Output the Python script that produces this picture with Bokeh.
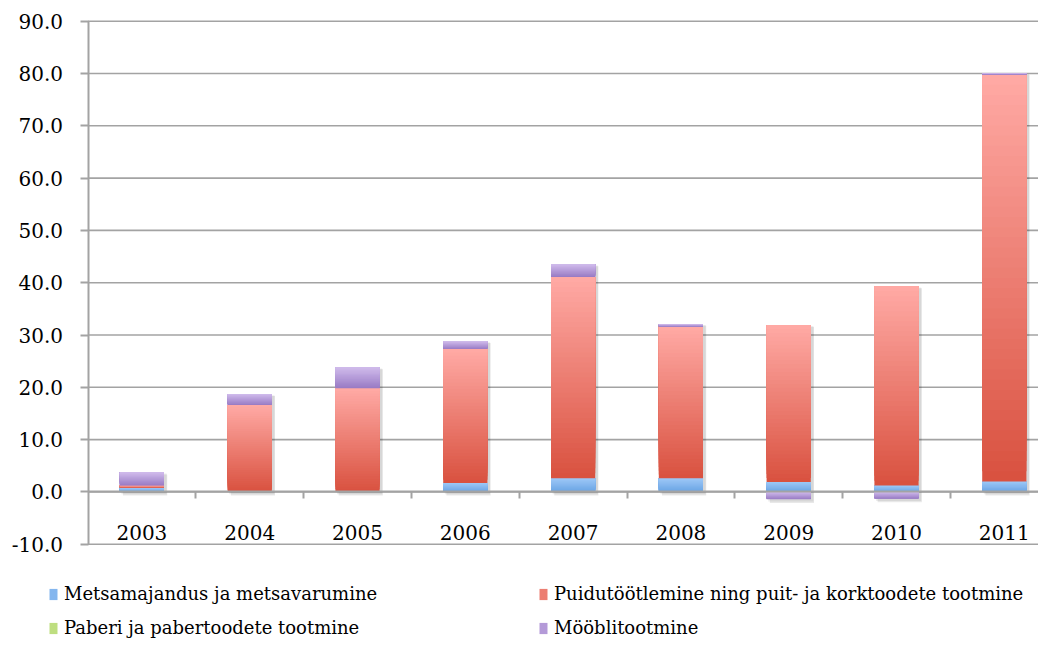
import numpy as np
from bokeh.plotting import figure
from bokeh.models import (ColumnDataSource, Range1d, FixedTicker, NumeralTickFormatter,
                          Legend, LegendItem)
from bokeh.embed import file_html
from bokeh.resources import INLINE

# ---------------- data ----------------
years = ["2003", "2004", "2005", "2006", "2007", "2008", "2009", "2010", "2011"]
series_names = ["Metsamajandus ja metsavarumine",
                "Puidutöötlemine ning puit- ja korktoodete tootmine",
                "Paberi ja pabertoodete tootmine",
                "Mööblitootmine"]
metsamajandus = [0.8, 0.0, 0.0, 1.7, 2.6, 2.6, 1.9, 1.2, 2.0]
puidutootlemine = [0.4, 16.6, 19.8, 25.6, 38.5, 29.0, 30.0, 38.1, 77.8]
paberi = [0.0, 0.0, 0.0, 0.0, 0.0, 0.0, 0.0, 0.0, 0.0]
mooblitootmine = [2.5, 2.1, 4.0, 1.5, 2.4, 0.5, -1.4, -1.3, 0.3]
y_ticks = [-10, 0, 10, 20, 30, 40, 50, 60, 70, 80, 90]

# gradient colours per series (bottom colour, top colour)
grad = [("#6aa4e4", "#9dc8f7"),
        ("#d9513f", "#ffaaa5"),
        ("#a5cd5c", "#d8f0a3"),
        ("#987ac3", "#d0bbec")]

BAR_W = 0.41
N = 40
W, H = 1038, 638
CAT_PX = 107.8          # pixels per category
UNIT_PX = 5.23          # pixels per value unit
LEFT_PX, ZERO_PX = 87.5, 491.4

x_start = -0.5 - LEFT_PX / CAT_PX
x_end = x_start + W / CAT_PX
y_top = ZERO_PX / UNIT_PX
y_bot = -(H - ZERO_PX) / UNIT_PX

def hx(c):
    return np.array([int(c[i:i + 2], 16) for i in (1, 3, 5)], dtype=float)

def mix(c0, c1, t):
    a, b = hx(c0), hx(c1)
    r = a + (b - a) * t
    return "#%02x%02x%02x" % tuple(int(round(v)) for v in r)

p = figure(width=W, height=H, output_backend="svg", toolbar_location=None,
           x_range=Range1d(x_start, x_end), y_range=Range1d(y_bot, y_top),
           min_border_left=0, min_border_right=0, min_border_top=0, min_border_bottom=0,
           background_fill_color="white", border_fill_color="white")
p.outline_line_color = None
p.grid.visible = False

xs = np.arange(len(years))

# horizontal gridlines (only across the plot area)
p.segment(x0=[-0.5] * len(y_ticks), x1=[x_end] * len(y_ticks), y0=y_ticks, y1=y_ticks,
          line_color="#a3a3a3", line_width=1.6)

# shadows
all_series = [metsamajandus, puidutootlemine, paberi, mooblitootmine]
pos_tot = np.zeros(len(years))
neg_tot = np.zeros(len(years))
for s in all_series:
    arr = np.array(s)
    pos_tot += np.where(arr > 0, arr, 0)
    neg_tot += np.where(arr < 0, arr, 0)
p.vbar(x=xs + 0.03, width=BAR_W, top=pos_tot - 0.35, bottom=neg_tot - 0.7,
       fill_color="#000000", fill_alpha=0.09, line_color=None)
p.vbar(x=xs + 0.02, width=BAR_W + 0.01, top=pos_tot - 0.2, bottom=neg_tot - 0.45,
       fill_color="#000000", fill_alpha=0.07, line_color=None)

pos_base = np.zeros(len(years))
neg_base = np.zeros(len(years))
renderers = []
for s, (c0, c1) in zip(all_series, grad):
    arr = np.array(s, dtype=float)
    bottoms = np.where(arr >= 0, pos_base, neg_base + arr)
    tops = np.where(arr >= 0, pos_base + arr, neg_base)
    pos_base = pos_base + np.where(arr > 0, arr, 0)
    neg_base = neg_base + np.where(arr < 0, arr, 0)
    X, B, T, C = [], [], [], []
    for i in range(N):
        t = (i + 0.5) / N
        col = mix(c0, c1, t)
        for k in range(len(years)):
            h = tops[k] - bottoms[k]
            if h == 0:
                continue
            X.append(xs[k])
            B.append(bottoms[k] + h * i / N)
            T.append(tops[k])
            C.append(col)
    src = ColumnDataSource(dict(x=X, bottom=B, top=T, color=C))
    p.vbar(x="x", width=BAR_W, bottom="bottom", top="top", source=src,
           fill_color="color", line_color=None)
    # renderer used for the legend swatch only (placed far outside the view)
    mid = mix(c0, c1, 0.5)
    renderers.append(p.vbar(x=[x_start - 50], width=0.1, top=[y_bot - 200], bottom=[y_bot - 201],
                            fill_color=mid, line_color=None))

# axes
xa = p.xaxis[0]
xa.fixed_location = 0
xa.bounds = (-0.5, x_end)
xa.ticker = FixedTicker(ticks=list(xs), minor_ticks=[k + 0.5 for k in range(len(years))])
xa.major_label_overrides = {int(k): y for k, y in zip(xs, years)}
xa.axis_line_color = "#a3a3a3"
xa.axis_line_width = 2
xa.major_tick_line_color = None
xa.major_tick_out = 0
xa.major_tick_in = 0
xa.minor_tick_line_color = "#a3a3a3"
xa.minor_tick_line_width = 2
xa.minor_tick_out = 7
xa.minor_tick_in = 0
xa.major_label_standoff = 26
xa.major_label_text_font = "DejaVu Serif"
xa.major_label_text_font_size = "20px"
xa.major_label_text_color = "#000000"

ya = p.yaxis[0]
ya.fixed_location = -0.5
ya.bounds = (-10, 90)
ya.ticker = FixedTicker(ticks=y_ticks)
ya.formatter = NumeralTickFormatter(format="0.0")
ya.axis_line_color = "#a3a3a3"
ya.axis_line_width = 2
ya.major_tick_line_color = "#a3a3a3"
ya.major_tick_line_width = 2
ya.major_tick_out = 8
ya.major_tick_in = 0
ya.minor_tick_line_color = None
ya.major_label_standoff = 17
ya.major_label_text_font = "DejaVu Serif"
ya.major_label_text_font_size = "20px"
ya.major_label_text_color = "#000000"

items = [LegendItem(label=n, renderers=[r]) for n, r in zip(series_names, renderers)]
legend = Legend(items=items, location=(48, 0), orientation="horizontal", ncols=2,
                glyph_width=10, glyph_height=14, label_standoff=6,
                label_width=461, label_height=20, spacing=13, padding=0, margin=0,
                label_text_font="DejaVu Serif", label_text_font_size="18px",
                label_text_color="#000000",
                border_line_color=None, background_fill_alpha=0)
p.add_layout(legend, "center")

open("out.html", "w").write(file_html(p, INLINE))
